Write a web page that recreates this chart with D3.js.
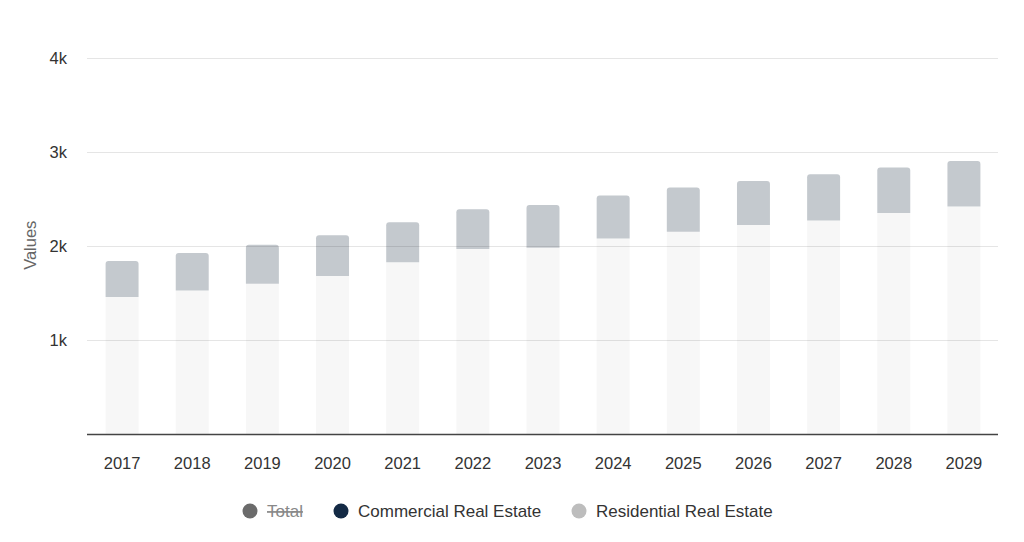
<!DOCTYPE html>
<html>
<head>
<meta charset="utf-8">
<script src="https://cdn.jsdelivr.net/npm/d3@7"></script>
<style>
  html, body { margin: 0; padding: 0; background: #fff; }
  svg { display: block; font-family: "Liberation Sans", Arial, Helvetica, sans-serif; }
</style>
</head>
<body>
<svg id="chart" width="1024" height="542"></svg>
<script>
const years = ["2017","2018","2019","2020","2021","2022","2023","2024","2025","2026","2027","2028","2029"];
const residential = [1461, 1530, 1602, 1684, 1830, 1971, 1985, 2083, 2155, 2226, 2274, 2354, 2421];
const commercial  = [383, 399, 415, 433, 425, 422, 454, 455, 468, 468, 491, 482, 485];
const yTicks = [1000, 2000, 3000, 4000];
const yTickLabels = ["1k", "2k", "3k", "4k"];
const legendItems = ["Total", "Commercial Real Estate", "Residential Real Estate"];
const legendColors = ["#6b6b6b", "#142a45", "#bdbdbd"];

const svg = d3.select("#chart");
const pLeft = 87, pRight = 999, pTop = 58, pBottom = 434.5;

const x = d3.scaleBand().domain(years).range([pLeft, pRight]).paddingInner(0.53).paddingOuter(0.265);
const y = d3.scaleLinear().domain([0, 4000]).range([pBottom, pTop]);

const rows = years.map((yr, i) => ({ yr, res: residential[i], com: commercial[i] }));

// bars
const g = svg.append("g");
g.selectAll("rect.res").data(rows).join("rect")
  .attr("class", "res")
  .attr("x", d => x(d.yr))
  .attr("width", x.bandwidth())
  .attr("y", d => y(d.res))
  .attr("height", d => y(0) - y(d.res))
  .attr("fill", "#f7f7f7");

function topRounded(x0, y0, w, h, r) {
  return `M${x0},${y0 + h} L${x0},${y0 + r} Q${x0},${y0} ${x0 + r},${y0} L${x0 + w - r},${y0} Q${x0 + w},${y0} ${x0 + w},${y0 + r} L${x0 + w},${y0 + h} Z`;
}
g.selectAll("path.com").data(rows).join("path")
  .attr("class", "com")
  .attr("d", d => {
    const y1 = y(d.res + d.com), y0 = y(d.res);
    return topRounded(x(d.yr), y1, x.bandwidth(), y0 - y1, 3);
  })
  .attr("fill", "#c4c9ce");

// gridlines (drawn over bars, translucent)
svg.append("g").selectAll("line").data(yTicks).join("line")
  .attr("x1", pLeft).attr("x2", pRight - 1)
  .attr("y1", d => Math.round(y(d)) + 0.5).attr("y2", d => Math.round(y(d)) + 0.5)
  .attr("stroke", "#000").attr("stroke-opacity", 0.1).attr("stroke-width", 1);

// y tick labels
svg.append("g").selectAll("text").data(yTicks).join("text")
  .attr("x", 67).attr("y", d => y(d))
  .attr("dy", "0.35em")
  .attr("text-anchor", "end")
  .attr("font-size", 16.5)
  .attr("fill", "#333")
  .text((d, i) => yTickLabels[i]);

// y axis title
svg.append("text")
  .attr("transform", `translate(36,${(pTop + pBottom) / 2 - 1}) rotate(-90)`)
  .attr("text-anchor", "middle")
  .attr("font-size", 16.5)
  .attr("fill", "#666")
  .text("Values");

// x axis
const xAxis = svg.append("g").attr("transform", `translate(0,${pBottom})`)
  .call(d3.axisBottom(x).tickSize(0).tickPadding(23));
xAxis.select(".domain").attr("stroke", "#444").attr("stroke-width", 1.5).attr("d", `M${pLeft},0H${pRight - 1}`);
xAxis.selectAll("text").attr("font-size", 16.5).attr("fill", "#333")
  .attr("font-family", "Liberation Sans, Arial, sans-serif");

// legend
const legendX = [250, 341, 579];
const lg = svg.append("g");
legendItems.forEach((name, i) => {
  lg.append("circle").attr("cx", legendX[i]).attr("cy", 511).attr("r", 7.5).attr("fill", legendColors[i]);
  const t = lg.append("text")
    .attr("x", legendX[i] + 17).attr("y", 511).attr("dy", "0.35em")
    .attr("font-size", 17)
    .attr("fill", i === 0 ? "#888" : "#333")
    .text(name);
  if (i === 0) t.attr("text-decoration", "line-through");
});
</script>
</body>
</html>
